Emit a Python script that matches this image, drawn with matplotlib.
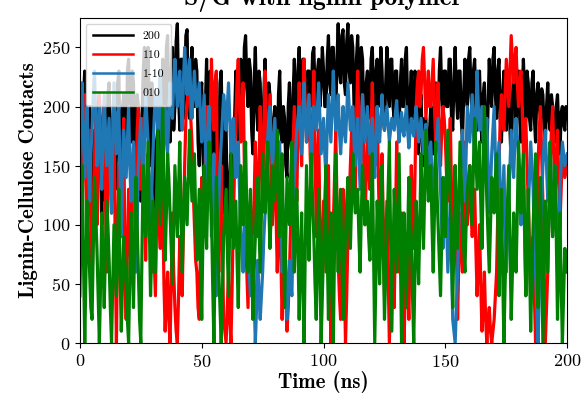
import matplotlib
matplotlib.use('Agg')
import matplotlib.pyplot as plt
import numpy as np

time = np.arange(0, 200.5, 0.5)

c200 = [220, 180, 150, 210, 230, 160, 120, 190, 200, 140, 90, 170, 180, 110, 130, 200, 210, 150, 100, 180,
        190, 120, 140, 210, 220, 170, 110, 180, 200, 130, 160, 220, 230, 150, 130, 200, 210, 170, 150, 230,
        240, 190, 170, 230, 220, 160, 140, 210, 200, 150, 120, 190, 230, 250, 180, 210, 250, 190, 150, 220,
        200, 140, 110, 170, 180, 120, 130, 200, 240, 210, 190, 250, 260, 200, 170, 230, 250, 180, 200, 255,
        270, 210, 180, 240, 240, 190, 210, 260, 265, 200, 190, 230, 250, 210, 200, 240, 230, 170, 150, 210,
        220, 160, 130, 200, 240, 190, 180, 230, 210, 150, 120, 180, 200, 140, 160, 220, 230, 170, 110, 190,
        180, 120, 80, 140, 160, 90, 110, 190, 230, 200, 170, 220, 240, 200, 190, 250, 260, 220, 200, 240,
        230, 180, 160, 220, 250, 200, 180, 230, 220, 170, 150, 210, 240, 190, 170, 220, 210, 160, 130, 190,
        200, 160, 150, 210, 230, 180, 170, 200, 190, 150, 140, 200, 220, 170, 160, 210, 240, 200, 180, 230,
        250, 210, 200, 240, 240, 200, 190, 230, 230, 200, 210, 245, 250, 210, 190, 230, 240, 200, 220, 250,
        230, 200, 200, 240, 260, 220, 210, 250, 250, 210, 190, 240, 270, 230, 220, 260, 265, 220, 210, 255,
        270, 230, 220, 260, 250, 200, 190, 240, 260, 220, 200, 250, 240, 190, 180, 220, 230, 190, 200, 240,
        250, 210, 190, 230, 240, 200, 210, 250, 230, 190, 180, 220, 250, 210, 200, 240, 240, 200, 190, 230,
        230, 190, 180, 220, 240, 200, 200, 240, 250, 200, 170, 210, 230, 190, 190, 230, 220, 180, 160, 200,
        210, 170, 150, 190, 190, 150, 140, 180, 200, 160, 160, 210, 220, 190, 180, 230, 250, 210, 190, 230,
        230, 200, 200, 240, 240, 190, 180, 220, 250, 210, 190, 230, 230, 190, 170, 210, 240, 210, 200, 240,
        250, 210, 190, 230, 240, 200, 180, 220, 230, 190, 170, 210, 220, 180, 160, 200, 240, 210, 200, 240,
        250, 210, 190, 230, 240, 190, 170, 210, 230, 200, 180, 220, 220, 180, 150, 200, 240, 210, 190, 230,
        230, 190, 170, 210, 240, 210, 190, 230, 220, 190, 180, 220, 230, 190, 170, 210, 220, 200, 190, 215,
        210, 180, 170, 200, 220, 190, 180, 210, 200, 175, 170, 200, 210, 180, 160, 195, 200, 185, 180, 200,
        190]

c110 = [200, 150, 120, 180, 210, 140, 90, 160, 180, 100, 40, 120, 160, 190, 100, 150, 210, 170, 150, 190,
        200, 120, 60, 140, 180, 150, 120, 190, 210, 80, 0, 90, 150, 110, 90, 160, 190, 60, 20, 80,
        130, 90, 60, 120, 170, 140, 110, 180, 200, 160, 130, 170, 190, 120, 70, 120, 160, 110, 90, 60,
        100, 70, 40, 110, 150, 100, 80, 130, 120, 50, 10, 40, 60, 20, 0, 50, 110, 60, 30, 10,
        0, 40, 90, 60, 40, 100, 150, 190, 200, 220, 230, 190, 170, 130, 100, 70, 60, 30, 20, 80,
        140, 110, 90, 160, 200, 150, 120, 190, 240, 200, 180, 220, 230, 120, 60, 110, 150, 80, 20, 10,
        0, 30, 60, 20, 0, 50, 110, 160, 190, 220, 240, 200, 170, 200, 220, 150, 90, 60, 30, 80,
        120, 80, 60, 120, 170, 130, 90, 150, 200, 160, 120, 180, 230, 190, 150, 180, 210, 150, 100, 140,
        170, 110, 60, 100, 140, 70, 20, 60, 90, 40, 10, 30, 60, 100, 140, 170, 200, 160, 120, 180,
        220, 180, 150, 200, 240, 200, 170, 190, 210, 160, 130, 190, 230, 170, 90, 140, 180, 100, 40, 80,
        120, 90, 60, 110, 150, 60, 0, 50, 100, 140, 180, 120, 70, 40, 20, 80, 130, 60, 0, 40,
        90, 120, 150, 180, 200, 160, 120, 190, 230, 190, 160, 190, 210, 150, 100, 140, 180, 150, 130, 180,
        220, 180, 150, 180, 200, 140, 90, 130, 160, 100, 40, 80, 120, 60, 0, 40, 80, 50, 30, 100,
        170, 110, 60, 90, 110, 50, 0, 40, 90, 50, 20, 80, 150, 110, 80, 140, 200, 220, 230, 200,
        210, 240, 250, 220, 190, 210, 230, 200, 200, 220, 240, 200, 170, 190, 220, 180, 150, 180, 200, 190,
        170, 140, 120, 160, 190, 130, 80, 120, 150, 80, 20, 70, 110, 80, 60, 120, 170, 130, 100, 130,
        150, 110, 90, 110, 130, 80, 40, 70, 100, 50, 10, 30, 60, 20, 0, 20, 30, 10, 0, 10,
        20, 40, 60, 110, 150, 190, 210, 190, 180, 210, 240, 220, 200, 230, 260, 240, 220, 240, 250, 220,
        200, 220, 230, 200, 160, 180, 190, 150, 120, 80, 40, 60, 90, 40, 0, 70, 150, 180, 200, 160,
        120, 60, 0, 30, 60, 110, 150, 180, 200, 160, 120, 150, 180, 140, 100, 130, 160, 150, 140, 145,
        150]

c1m10 = [160, 200, 220, 170, 140, 180, 200, 150, 120, 160, 180, 210, 230, 190, 150, 180, 200, 160, 130, 170,
         210, 180, 150, 170, 190, 140, 110, 170, 220, 190, 160, 190, 200, 140, 90, 130, 180, 160, 140, 170,
         200, 150, 120, 150, 170, 110, 60, 100, 150, 170, 190, 160, 130, 170, 210, 190, 170, 130, 100, 130,
         160, 190, 210, 200, 180, 210, 230, 180, 140, 170, 200, 180, 160, 190, 220, 200, 190, 220, 240, 220,
         200, 220, 230, 200, 180, 220, 250, 230, 210, 230, 240, 210, 190, 210, 230, 210, 200, 210, 220, 190,
         170, 190, 210, 170, 130, 160, 200, 140, 90, 120, 160, 100, 40, 80, 120, 150, 170, 190, 210, 200,
         180, 200, 220, 190, 160, 180, 190, 160, 140, 160, 170, 130, 100, 80, 60, 90, 130, 110, 80, 60,
         40, 70, 90, 40, 0, 30, 70, 40, 20, 40, 60, 90, 110, 140, 170, 190, 200, 170, 150, 170,
         190, 160, 130, 150, 170, 120, 60, 80, 110, 60, 20, 40, 70, 50, 40, 90, 140, 160, 180, 190,
         200, 180, 160, 190, 220, 190, 170, 190, 210, 180, 150, 180, 200, 190, 180, 200, 220, 190, 160, 175,
         190, 160, 140, 180, 210, 190, 170, 200, 230, 200, 180, 190, 210, 180, 160, 180, 200, 180, 170, 195,
         220, 200, 180, 190, 200, 170, 150, 170, 190, 160, 130, 170, 210, 190, 170, 185, 200, 180, 160, 175,
         190, 160, 140, 170, 200, 180, 170, 190, 210, 190, 180, 190, 200, 185, 170, 180, 190, 185, 180, 195,
         205, 185, 170, 185, 195, 180, 175, 190, 200, 180, 165, 180, 190, 180, 175, 190, 200, 185, 170, 180,
         190, 175, 160, 175, 185, 165, 150, 160, 170, 140, 110, 140, 160, 175, 190, 160, 130, 100, 80, 110,
         140, 100, 60, 90, 120, 70, 20, 10, 0, 30, 60, 100, 140, 160, 180, 150, 120, 160, 200, 185,
         170, 190, 210, 180, 150, 190, 230, 200, 180, 190, 200, 170, 140, 170, 190, 150, 110, 130, 160, 180,
         200, 160, 130, 150, 170, 130, 90, 120, 150, 100, 60, 90, 120, 150, 180, 160, 140, 170, 190, 175,
         160, 130, 100, 130, 150, 90, 40, 80, 110, 140, 170, 150, 130, 90, 60, 30, 0, 40, 90, 120,
         150, 170, 180, 150, 120, 150, 170, 130, 90, 120, 150, 110, 60, 90, 130, 150, 170, 160, 150, 155,
         160]

c010 = [40, 100, 150, 70, 0, 60, 120, 90, 60, 30, 20, 80, 140, 110, 80, 40, 0, 50, 110, 70,
        30, 80, 120, 100, 70, 30, 0, 50, 100, 70, 40, 90, 130, 60, 10, 50, 90, 70, 50, 20,
        0, 60, 110, 70, 30, 90, 140, 100, 60, 20, 0, 80, 150, 120, 90, 130, 170, 100, 40, 80,
        120, 90, 60, 120, 180, 140, 100, 150, 200, 130, 70, 110, 160, 140, 110, 80, 50, 100, 150, 120,
        90, 130, 170, 110, 60, 100, 140, 120, 100, 140, 180, 150, 120, 140, 160, 110, 70, 100, 130, 70,
        20, 90, 150, 110, 80, 130, 170, 140, 110, 50, 0, 70, 140, 100, 60, 30, 0, 40, 90, 110,
        130, 80, 40, 100, 160, 120, 80, 100, 120, 70, 30, 90, 150, 130, 100, 140, 170, 110, 60, 100,
        130, 70, 20, 60, 90, 120, 140, 100, 60, 110, 160, 130, 110, 140, 170, 120, 80, 110, 150, 135,
        120, 150, 180, 130, 90, 130, 160, 100, 30, 90, 140, 120, 100, 140, 170, 120, 60, 100, 130, 80,
        20, 70, 110, 50, 0, 80, 150, 110, 70, 120, 160, 120, 90, 50, 20, 80, 130, 60, 0, 40,
        80, 120, 150, 80, 20, 70, 110, 50, 0, 80, 160, 110, 60, 100, 130, 70, 20, 60, 90, 120,
        140, 110, 80, 120, 160, 130, 110, 120, 130, 90, 60, 110, 150, 120, 100, 110, 120, 90, 70, 110,
        160, 80, 0, 60, 120, 90, 50, 100, 150, 80, 20, 60, 90, 130, 170, 90, 10, 70, 130, 100,
        60, 110, 160, 80, 0, 60, 110, 70, 30, 90, 140, 110, 90, 40, 0, 60, 120, 90, 50, 100,
        160, 120, 80, 130, 180, 150, 120, 140, 150, 100, 60, 110, 170, 130, 100, 70, 40, 90, 140, 110,
        90, 130, 180, 150, 120, 80, 30, 90, 150, 110, 80, 120, 170, 140, 110, 80, 60, 100, 130, 140,
        150, 120, 100, 150, 190, 160, 130, 150, 170, 120, 80, 140, 200, 160, 120, 90, 60, 100, 140, 120,
        110, 140, 160, 100, 40, 90, 130, 60, 0, 50, 90, 120, 150, 80, 20, 60, 110, 80, 60, 110,
        170, 140, 110, 140, 160, 100, 40, 90, 130, 70, 10, 60, 100, 130, 160, 90, 30, 90, 140, 70,
        0, 60, 120, 90, 60, 110, 170, 130, 90, 120, 150, 90, 20, 70, 110, 50, 0, 40, 80, 70,
        60]

labels = ['200', '110', '1-10', '010']
colors = ['black', 'red', '#1f77b4', 'green']

plt.rcParams['font.family'] = 'serif'
plt.rcParams['font.serif'] = ['cmr10', 'DejaVu Serif']
plt.rcParams['axes.formatter.use_mathtext'] = True

fig, ax = plt.subplots(figsize=(5.83, 3.97), dpi=100)
plt.subplots_adjust(left=0.137, right=0.973, bottom=0.136, top=0.955)

for series, lab, col in zip([c200, c110, c1m10, c010], labels, colors):
    ax.plot(time, series, color=col, lw=2.3, label=lab)

ax.set_xlim(0, 200)
ax.set_ylim(0, 275)
ax.set_xticks([0, 50, 100, 150, 200])
ax.set_yticks([0, 50, 100, 150, 200, 250])
ax.tick_params(labelsize=13)

ax.set_xlabel('Time (ns)', fontsize=15, family='cmb10', labelpad=1)
ax.set_ylabel('Lignin-Cellulose Contacts', fontsize=15, family='cmb10', labelpad=3)
ax.set_title('S/G with lignin polymer', fontsize=18.5, family='cmb10', pad=9)

leg = ax.legend(loc='upper left', fontsize=8.5, handlelength=3.4, labelspacing=0.75,
                borderpad=0.6, framealpha=0.8)
for line in leg.get_lines():
    line.set_linewidth(1.8)

plt.savefig('out.png', dpi=100)
